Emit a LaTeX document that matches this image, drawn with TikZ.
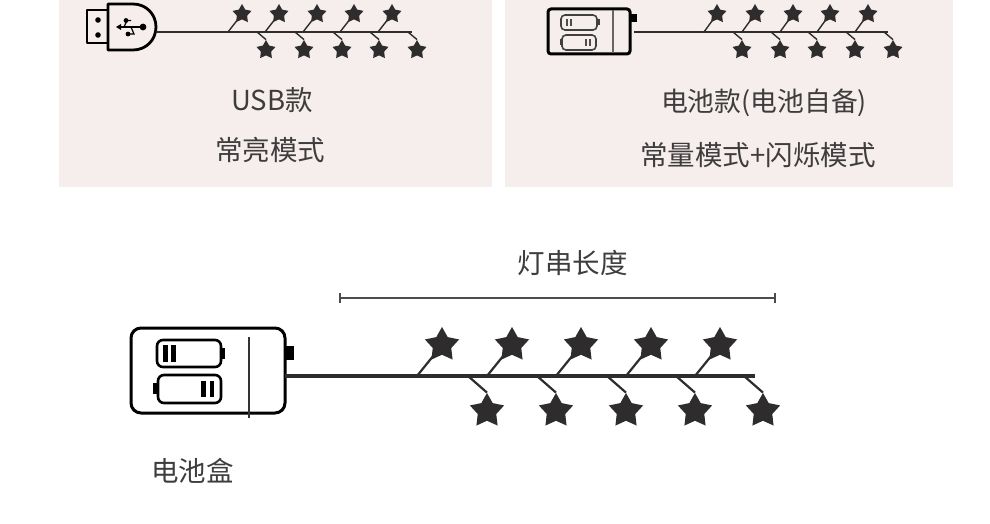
\documentclass[tikz,border=0pt]{standalone}
\usepackage{fontspec}
\setmainfont{Noto Sans CJK SC}
\usetikzlibrary{shapes.geometric}
\definecolor{panelbg}{HTML}{F5EEEC}
\definecolor{ink}{HTML}{2E2C2D}
\definecolor{labelgray}{HTML}{3E3C3C}
\tikzset{
  x=1pt,y=-1pt,
  bigstar/.style={star,star points=5,star point ratio=1.85,fill=ink,draw=none,inner sep=0pt,minimum size=36pt},
  smallstar/.style={star,star points=5,star point ratio=1.85,fill=ink,draw=none,inner sep=0pt,minimum size=20pt},
  label text/.style={text=labelgray,font=\fontsize{27.5}{30}\selectfont,inner sep=0pt},
  body line/.style={draw=black,line width=2.8pt,line join=round},
  thin stem/.style={draw=ink,line width=1.4pt},
  big stem/.style={draw=ink,line width=2.2pt},
}
\begin{document}
\begin{tikzpicture}
\useasboundingbox (0,0) rectangle (990,524);
\fill[white] (0,0) rectangle (990,524);
\fill[panelbg] (59,0) rectangle (492,187);
\fill[panelbg] (505,0) rectangle (953,187);

% --- USB version
\draw[body line] (108,10) -- (87,10) -- (87,43) -- (108,43);
\draw[body line] (108,4) -- (133,4) .. controls (146,4) and (156,14) .. (156,27) .. controls (156,40) and (146,50) .. (133,50) -- (108,50) -- cycle;
\fill[black] (98,20) circle[radius=2.8];
\fill[black] (98,35) circle[radius=2.8];
\draw[black,line width=1.2pt] (119,27) -- (143,27);
\fill[black] (116,27) -- (121,24) -- (121,30) -- cycle;
\fill[black] (143,27) circle[radius=3.4];
\draw[black,line width=1.2pt] (124,27) -- (127,20.5) -- (131,20.5);
\fill[black] (126,20.5) circle[radius=2.4];
\draw[black,line width=1.2pt] (131,27) -- (134,34) -- (129,34);
\fill[black] (128,34) circle[radius=2.4];
\coordinate (usbplug) at (156,32);
\coordinate (usbend) at (412,32);
\draw[draw=ink,line width=2.2pt] (usbplug) -- (usbend);
\foreach \i/\tx/\bx in {1/242/266,2/279/304,3/317/342,4/354/379,5/392/417}{
  \node[smallstar] (ua\i) at (\tx,14) {};
  \node[smallstar] (ub\i) at (\bx,50) {};
  \coordinate (uas\i) at ({\tx-14},32);
  \coordinate (ubs\i) at ({\bx-9},32);
  \draw[thin stem] (uas\i) -- (ua\i.center);
  \draw[thin stem] (ubs\i) -- (ub\i.north);
}
\node[label text] (usblabel) at (272,100.5) {USB款};
\node[label text] (usbmode) at (270,150) {常亮模式};

% --- small battery version
\draw[draw=black,line width=3pt,rounded corners=3pt] (548,9) rectangle (630,54);
\fill[black] (631,14) rectangle (637,22);
\draw[draw=black!60,line width=1.2pt] (613,10) -- (613,53);
\draw[draw=black!75,line width=1.6pt,rounded corners=4pt] (561,15) rectangle (597,30);
\fill[black!75] (597,19.5) rectangle (599.5,25.5);
\draw[draw=black!75,line width=1.6pt,rounded corners=4pt] (562,35) rectangle (596,50);
\fill[black!75] (559.5,39.5) rectangle (562,45.5);
\fill[black!70] (565.5,19) rectangle (567.5,26);
\fill[black!70] (569.5,19) rectangle (571.5,26);
\fill[black!70] (585,39) rectangle (587,46);
\fill[black!70] (589,39) rectangle (591,46);
\coordinate (batplug) at (634,32);
\coordinate (batend) at (888,32);
\draw[draw=ink,line width=2.2pt] (batplug) -- (batend);
\foreach \i/\tx/\bx in {1/717/742,2/755/780,3/793/817,4/830/855,5/868/893}{
  \node[smallstar] (ba\i) at (\tx,14) {};
  \node[smallstar] (bb\i) at (\bx,50) {};
  \coordinate (bas\i) at ({\tx-13},32);
  \coordinate (bbs\i) at ({\bx-9},32);
  \draw[thin stem] (bas\i) -- (ba\i.center);
  \draw[thin stem] (bbs\i) -- (bb\i.north);
}
\node[label text,font=\fontsize{26.8}{30}\selectfont] (batlabel) at (764,103) {电池款(电池自备)};
\node[label text] (batmode) at (758,155) {常量模式+闪烁模式};

% --- large battery box
\node[label text] (lenlabel) at (572.5,263) {灯串长度};
\coordinate (brl) at (340,298);
\coordinate (brr) at (775,298);
\draw[draw=black!70,line width=1.6pt] (brl) -- (brr);
\draw[draw=black!70,line width=1.4pt] (340,293) -- (340,303);
\draw[draw=black!70,line width=1.4pt] (775,293) -- (775,303);

\draw[draw=black,line width=3pt,rounded corners=10pt] (131,328) rectangle (285,413);
\fill[black] (286,346) rectangle (294,360);
\draw[draw=black!80,line width=1.3pt] (249,337) -- (249,418);
\draw[draw=black,line width=2.6pt,rounded corners=6pt] (157,340) rectangle (221,367);
\fill[black] (221,348) rectangle (225,359);
\draw[draw=black,line width=2.6pt,rounded corners=6pt] (158,375) rectangle (221,403);
\fill[black] (153,383) rectangle (158,394);
\fill[black] (163,345) rectangle (167.5,362);
\fill[black] (171,345) rectangle (175.5,362);
\fill[black] (201,381) rectangle (205.5,397);
\fill[black] (209.5,381) rectangle (214,397);
\coordinate (boxplug) at (285,376);
\coordinate (boxend) at (755,376);
\draw[draw=ink,line width=3.2pt] (boxplug) -- (boxend);
\foreach \i/\tx/\bx in {1/442/487,2/512/556,3/581/626,4/651/695,5/720/763}{
  \node[bigstar] (ta\i) at (\tx,345) {};
  \node[bigstar] (tb\i) at (\bx,411) {};
  \coordinate (tas\i) at ({\tx-25},376);
  \coordinate (tbs\i) at ({\bx-19},376);
  \draw[big stem] (tas\i) -- (ta\i.center);
  \draw[big stem] (tbs\i) -- (tb\i.north);
}
\node[label text] (boxlabel) at (192.5,471) {电池盒};
\end{tikzpicture}
\end{document}
